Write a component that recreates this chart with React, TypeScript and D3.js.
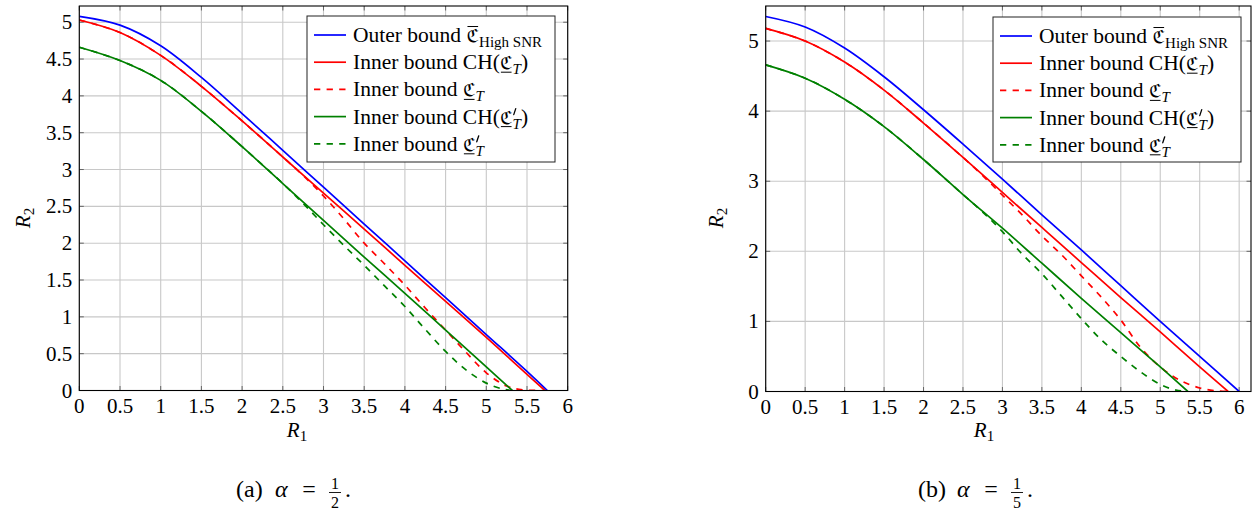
import React, { useRef, useEffect } from 'react';
import * as d3 from 'd3';

type Pt = [number, number];

// (a) alpha = 1/2
const outerHalf: Pt[] = [[0, 5.08], [0.5, 4.96], [1, 4.68], [1.5, 4.25], [2, 3.76], [2.5, 3.26], [3, 2.76], [3.5, 2.26], [4, 1.76], [4.5, 1.26], [5, 0.76], [5.5, 0.26], [5.75, 0]];
const hullHalf: Pt[] = [[0, 5.03], [0.5, 4.86], [1, 4.55], [1.5, 4.13], [2, 3.66], [2.5, 3.17], [3, 2.68], [3.5, 2.19], [4, 1.7], [4.5, 1.21], [5, 0.72], [5.5, 0.22], [5.72, 0]];
const innerHalf: Pt[] = [[0, 5.03], [0.5, 4.86], [1, 4.55], [1.5, 4.13], [2, 3.66], [2.5, 3.17], [2.75, 2.92], [3, 2.64], [3.25, 2.33], [3.5, 2.0], [3.75, 1.72], [4, 1.43], [4.25, 1.12], [4.5, 0.82], [4.75, 0.52], [5, 0.24], [5.25, 0.06], [5.45, 0.01], [5.72, 0]];
const hullPrimeHalf: Pt[] = [[0, 4.66], [0.5, 4.48], [1, 4.21], [1.5, 3.79], [2, 3.31], [2.5, 2.81], [3, 2.31], [3.5, 1.81], [4, 1.32], [4.5, 0.82], [5, 0.32], [5.32, 0]];
const innerPrimeHalf: Pt[] = [[0, 4.66], [0.5, 4.48], [1, 4.21], [1.5, 3.79], [2, 3.31], [2.5, 2.81], [2.75, 2.54], [3, 2.25], [3.25, 1.97], [3.5, 1.7], [3.75, 1.42], [4, 1.14], [4.25, 0.83], [4.5, 0.53], [4.75, 0.28], [5, 0.1], [5.2, 0.02], [5.32, 0]];

// (b) alpha = 1/5
const outerFifth: Pt[] = [[0, 5.35], [0.5, 5.2], [1, 4.9], [1.5, 4.49], [2, 4.02], [2.5, 3.53], [3, 3.03], [3.5, 2.52], [4, 2.02], [4.5, 1.51], [5, 1.0], [5.5, 0.5], [6.0, 0]];
const hullFifth: Pt[] = [[0, 5.18], [0.5, 5.0], [1, 4.7], [1.5, 4.3], [2, 3.83], [2.5, 3.34], [3, 2.84], [3.5, 2.34], [4, 1.84], [4.5, 1.34], [5, 0.85], [5.5, 0.35], [5.86, 0]];
const innerFifth: Pt[] = [[0, 5.18], [0.5, 5.0], [1, 4.7], [1.5, 4.3], [2, 3.83], [2.5, 3.34], [2.75, 3.08], [3, 2.8], [3.25, 2.52], [3.5, 2.22], [3.75, 1.95], [4, 1.65], [4.25, 1.35], [4.5, 1.02], [4.75, 0.63], [5, 0.35], [5.25, 0.16], [5.5, 0.05], [5.7, 0.01], [5.86, 0]];
const hullPrimeFifth: Pt[] = [[0, 4.66], [0.5, 4.47], [1, 4.17], [1.5, 3.78], [2, 3.31], [2.5, 2.81], [3, 2.33], [3.5, 1.83], [4, 1.33], [4.5, 0.84], [5, 0.35], [5.35, 0]];
const innerPrimeFifth: Pt[] = [[0, 4.66], [0.5, 4.47], [1, 4.17], [1.5, 3.78], [2, 3.31], [2.5, 2.81], [2.75, 2.56], [3, 2.28], [3.25, 1.96], [3.5, 1.68], [3.75, 1.36], [4, 1.04], [4.25, 0.74], [4.5, 0.5], [4.75, 0.28], [5, 0.1], [5.2, 0.02], [5.35, 0]];

const xTicks = [0, 0.5, 1, 1.5, 2, 2.5, 3, 3.5, 4, 4.5, 5, 5.5, 6];
const yTicksHalf = [0, 0.5, 1, 1.5, 2, 2.5, 3, 3.5, 4, 4.5, 5];
const yTicksFifth = [0, 1, 2, 3, 4, 5];

const SERIF = "Liberation Serif, Times New Roman, Times, serif";
const FRAK = "DejaVu Serif, DejaVu Sans, serif";

type Part = { t: string; italic?: boolean; size?: number; dy?: number; font?: string; over?: boolean; under?: boolean; prime?: boolean };

const legendEntries: { color: string; dashed: boolean; parts: Part[] }[] = [
  { color: '#0000ff', dashed: false, parts: [{ t: 'Outer bound ' }, { t: 'ℭ', font: FRAK, size: 18, over: true }, { t: 'High SNR', size: 15, dy: 5 }] },
  { color: '#ff0000', dashed: false, parts: [{ t: 'Inner bound CH(' }, { t: 'ℭ', font: FRAK, size: 18, under: true }, { t: 'T', italic: true, size: 15, dy: 5 }, { t: ')' }] },
  { color: '#ff0000', dashed: true, parts: [{ t: 'Inner bound ' }, { t: 'ℭ', font: FRAK, size: 18, under: true }, { t: 'T', italic: true, size: 15, dy: 5 }] },
  { color: '#008000', dashed: false, parts: [{ t: 'Inner bound CH(' }, { t: 'ℭ', font: FRAK, size: 18, under: true, prime: true }, { t: 'T', italic: true, size: 15, dy: 5 }, { t: ')' }] },
  { color: '#008000', dashed: true, parts: [{ t: 'Inner bound ' }, { t: 'ℭ', font: FRAK, size: 18, under: true, prime: true }, { t: 'T', italic: true, size: 15, dy: 5 }] },
];

const panels = [
  {
    id: 'a', left: 79.3, right: 567.7, top: 6, bottom: 390.5, xMax: 6, yMax: 5.22,
    yTicks: yTicksHalf, series: [outerHalf, hullHalf, innerHalf, hullPrimeHalf, innerPrimeHalf],
    legend: { x: 307, y: 16, w: 248, h: 146 }, r1x: 297, r2x: 30, caption: '(a)', num: '1', den: '2', capX: 293,
  },
  {
    id: 'b', left: 765.7, right: 1251, top: 6, bottom: 391.5, xMax: 6.15, yMax: 5.5,
    yTicks: yTicksFifth, series: [outerFifth, hullFifth, innerFifth, hullPrimeFifth, innerPrimeFifth],
    legend: { x: 993, y: 17, w: 248, h: 145 }, r1x: 984, r2x: 723, caption: '(b)', num: '1', den: '5', capX: 975,
  },
];

function rich(g: any, x0: number, y0: number, parts: Part[], size: number) {
  let cx = x0;
  for (const p of parts) {
    const fs = p.size ?? size;
    const yy = y0 + (p.dy ?? 0);
    const t = g.append('text')
      .attr('x', cx).attr('y', yy)
      .attr('font-family', p.font ?? SERIF)
      .attr('font-size', fs)
      .attr('font-style', p.italic ? 'italic' : 'normal')
      .style('white-space', 'pre')
      .attr('fill', '#000')
      .text(p.t);
    const w = (t.node() as SVGTextElement).getComputedTextLength();
    if (p.over) {
      g.append('line').attr('x1', cx + 1).attr('x2', cx + w - 1)
        .attr('y1', yy - fs * 0.86).attr('y2', yy - fs * 0.86)
        .attr('stroke', '#000').attr('stroke-width', 1);
    }
    if (p.under) {
      g.append('line').attr('x1', cx + 1).attr('x2', cx + w - 1)
        .attr('y1', yy + 3).attr('y2', yy + 3)
        .attr('stroke', '#000').attr('stroke-width', 1);
    }
    cx += w;
    if (p.prime) {
      // prime drawn as a small stroke, stacked above the subscript
      g.append('line').attr('x1', cx + 3.2).attr('x2', cx + 1.2)
        .attr('y1', yy - 15).attr('y2', yy - 9)
        .attr('stroke', '#000').attr('stroke-width', 1.3).attr('stroke-linecap', 'round');
    }
  }
  return cx;
}

function drawPanel(svg: any, p: any) {
  const x = d3.scaleLinear().domain([0, p.xMax]).range([p.left, p.right]);
  const y = d3.scaleLinear().domain([0, p.yMax]).range([p.bottom, p.top]);
  const g = svg.append('g');

  // grid
  g.selectAll('.gx').data(xTicks).join('line')
    .attr('x1', (d: number) => x(d)).attr('x2', (d: number) => x(d))
    .attr('y1', p.top).attr('y2', p.bottom)
    .attr('stroke', '#c8c8c8').attr('stroke-width', 1.1);
  g.selectAll('.gy').data(p.yTicks).join('line')
    .attr('x1', p.left).attr('x2', p.right)
    .attr('y1', (d: number) => y(d)).attr('y2', (d: number) => y(d))
    .attr('stroke', '#c8c8c8').attr('stroke-width', 1.1);

  // inner ticks on all four sides
  const tk = 4.5;
  xTicks.forEach((d) => {
    g.append('line').attr('x1', x(d)).attr('x2', x(d)).attr('y1', p.bottom).attr('y2', p.bottom - tk).attr('stroke', '#666');
    g.append('line').attr('x1', x(d)).attr('x2', x(d)).attr('y1', p.top).attr('y2', p.top + tk).attr('stroke', '#666');
  });
  p.yTicks.forEach((d: number) => {
    g.append('line').attr('x1', p.left).attr('x2', p.left + tk).attr('y1', y(d)).attr('y2', y(d)).attr('stroke', '#666');
    g.append('line').attr('x1', p.right).attr('x2', p.right - tk).attr('y1', y(d)).attr('y2', y(d)).attr('stroke', '#666');
  });

  // curves
  const clipId = 'clip-' + p.id;
  g.append('clipPath').attr('id', clipId).append('rect')
    .attr('x', p.left).attr('y', p.top).attr('width', p.right - p.left).attr('height', p.bottom - p.top);
  const line = d3.line<Pt>().x((d) => x(d[0])).y((d) => y(d[1])).curve(d3.curveCatmullRom.alpha(0.5));
  const cg = g.append('g').attr('clip-path', `url(#${clipId})`);
  p.series.forEach((s: Pt[], i: number) => {
    const e = legendEntries[i];
    cg.append('path').attr('d', line(s)).attr('fill', 'none')
      .attr('stroke', e.color).attr('stroke-width', 1.7)
      .attr('stroke-dasharray', e.dashed ? '6.3 6.3' : null);
  });

  // frame
  g.append('rect').attr('x', p.left).attr('y', p.top)
    .attr('width', p.right - p.left).attr('height', p.bottom - p.top)
    .attr('fill', 'none').attr('stroke', '#000').attr('stroke-width', 1.1);

  // tick labels
  g.selectAll('.xl').data(xTicks).join('text')
    .attr('x', (d: number) => x(d)).attr('y', p.bottom + 22)
    .attr('text-anchor', 'middle').attr('font-family', SERIF).attr('font-size', 21)
    .text((d: number) => String(d));
  g.selectAll('.yl').data(p.yTicks).join('text')
    .attr('x', p.left - 7).attr('y', (d: number) => y(d) + 7)
    .attr('text-anchor', 'end').attr('font-family', SERIF).attr('font-size', 21)
    .text((d: number) => String(d));

  // axis labels
  const r1 = g.append('g');
  const w1 = rich(r1, 0, 0, [{ t: 'R', italic: true }, { t: '1', size: 15, dy: 4 }], 21);
  r1.attr('transform', `translate(${p.r1x - w1 / 2},437)`);
  const r2o = g.append('g').attr('transform', `translate(${p.r2x},218) rotate(-90)`);
  const r2 = r2o.append('g');
  const w2 = rich(r2, 0, 0, [{ t: 'R', italic: true }, { t: '2', size: 15, dy: 4 }], 21);
  r2.attr('transform', `translate(${-w2 / 2},0)`);

  // legend
  const L = p.legend;
  const lg = g.append('g');
  lg.append('rect').attr('x', L.x).attr('y', L.y).attr('width', L.w).attr('height', L.h)
    .attr('fill', '#fff').attr('stroke', '#222').attr('stroke-width', 1);
  legendEntries.forEach((e, i) => {
    const cy = L.y + 19 + i * 27.2;
    lg.append('line').attr('x1', L.x + 7).attr('x2', L.x + 39).attr('y1', cy).attr('y2', cy)
      .attr('stroke', e.color).attr('stroke-width', 1.7)
      .attr('stroke-dasharray', e.dashed ? '6.3 6.3' : null);
    rich(lg, L.x + 46, cy + 7, e.parts, 21.5);
  });

  // caption: (a) alpha = 1/2.
  const c0 = p.capX;
  const cap = g.append('g').attr('font-family', SERIF);
  cap.append('text').attr('x', c0 - 57).attr('y', 497).attr('font-size', 24).text(p.caption);
  cap.append('text').attr('x', c0 - 18).attr('y', 497).attr('font-size', 24).attr('font-style', 'italic').text('α');
  cap.append('text').attr('x', c0 + 16).attr('y', 497).attr('font-size', 24).attr('text-anchor', 'middle').text('=');
  cap.append('text').attr('x', c0 + 42).attr('y', 489).attr('font-size', 16).attr('text-anchor', 'middle').text(p.num);
  cap.append('line').attr('x1', c0 + 36).attr('x2', c0 + 48).attr('y1', 492.5).attr('y2', 492.5)
    .attr('stroke', '#000').attr('stroke-width', 0.9);
  cap.append('text').attr('x', c0 + 42).attr('y', 508).attr('font-size', 16).attr('text-anchor', 'middle').text(p.den);
  cap.append('text').attr('x', c0 + 52).attr('y', 497).attr('font-size', 24).text('.');
}

export default function App() {
  const ref = useRef<SVGSVGElement>(null);

  useEffect(() => {
    const svg = d3.select(ref.current);
    svg.selectAll('*').remove();
    panels.forEach((p) => drawPanel(svg, p));
  }, []);

  return (
    <svg
      ref={ref}
      width={1256}
      height={510}
      style={{ position: 'absolute', left: 0, top: 0, background: '#fff' }}
    />
  );
}
